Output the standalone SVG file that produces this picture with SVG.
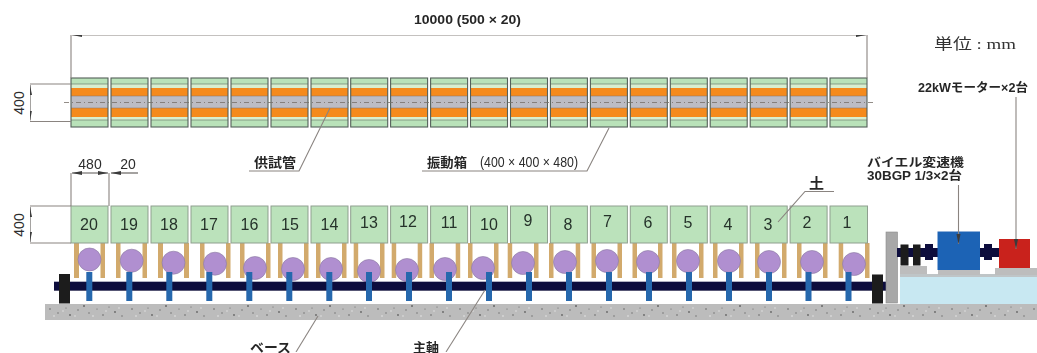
<svg xmlns="http://www.w3.org/2000/svg" width="1037" height="353" viewBox="0 0 1037 353">
<style>
.ln{fill:none;stroke:#8a8480;stroke-width:1.1}
.dk{fill:none;stroke:#5a5654;stroke-width:1.1}
.t{font-family:"Liberation Sans Narrow","Liberation Sans","Noto Sans CJK JP",sans-serif;fill:#262626;font-weight:700;font-size:12px}
.d{font-family:"Liberation Sans Narrow","Liberation Sans",sans-serif;fill:#2c2c2c;font-size:14px;text-anchor:middle}
.n{font-family:"Liberation Sans Narrow","Liberation Sans",sans-serif;fill:#26332b;font-size:16px;text-anchor:middle}
.box{fill:#bbe2bb;stroke:#8f9f8f;stroke-width:1}
.post{fill:#d2aa6c}
.c{fill:#b08fd0;stroke:#8a7aa0;stroke-width:.6}
.rod{fill:#2767ad}
.sh{fill:#10103e}
.bk{fill:#1c1c1c}
.gr{fill:#bdbdbd}
</style>
<defs>
<filter id="soft" x="0" y="0" width="100%" height="100%"><feGaussianBlur stdDeviation="0.4"/></filter>
<marker id="ah" markerWidth="10" markerHeight="6" refX="10" refY="3" orient="auto-start-reverse" markerUnits="userSpaceOnUse"><path d="M10 3L0 1V5Z" fill="#3a3a3a"/></marker>
<pattern id="sp" width="82" height="16" patternUnits="userSpaceOnUse" x="45" y="304">
<rect width="82" height="16" fill="#bcbcbc"/>
<g fill="#666"><circle cx="5" cy="5" r=".8"/><circle cx="13" cy="9" r=".7"/><circle cx="21" cy="4" r=".6"/><circle cx="25" cy="11" r=".9"/><circle cx="33" cy="6" r=".7"/><circle cx="39" cy="2" r="1"/><circle cx="44" cy="9" r=".7"/><circle cx="52" cy="5" r=".6"/><circle cx="58" cy="11" r=".8"/><circle cx="64" cy="3" r=".6"/><circle cx="70" cy="8" r=".9"/><circle cx="77" cy="12" r=".7"/></g>
<g fill="#e8e8e8"><circle cx="9" cy="12" r=".8"/><circle cx="18" cy="7" r=".7"/><circle cx="30" cy="12" r=".7"/><circle cx="48" cy="12" r=".8"/><circle cx="61" cy="7" r=".7"/><circle cx="74" cy="4" r=".7"/></g>
</pattern>
<g id="tube">
<rect x="0" y="0" width="37" height="49" fill="#b9e2b9"/>
<rect x="0" y="6" width="37" height="4" fill="#d8eecf"/>
<rect x="0" y="10" width="37" height="8" fill="#f58a1c"/>
<rect x="0" y="18" width="37" height="12" fill="#bcbcc4"/>
<rect x="0" y="30" width="37" height="9" fill="#f58a1c"/>
<rect x="0" y="39" width="37" height="3" fill="#d8eecf"/>
<path d="M0 6H37M0 42H37" stroke="#6f7f6f" stroke-width=".7" fill="none"/>
<path d="M0 18H37M0 30H37" stroke="#8a7060" stroke-width=".5" fill="none"/>
<rect x="0" y="0" width="37" height="49" fill="none" stroke="#55605a" stroke-width="1.1"/>
</g>
</defs>
<rect width="1037" height="353" fill="#fff"/>
<g filter="url(#soft)">

<g id="base"><rect x="45" y="304" width="992" height="16" fill="url(#sp)"/></g>

<g id="tubes">
<g id="tube-20"><use href="#tube" x="71" y="78"/></g>
<g id="tube-19"><use href="#tube" x="111" y="78"/></g>
<g id="tube-18"><use href="#tube" x="151" y="78"/></g>
<g id="tube-17"><use href="#tube" x="191" y="78"/></g>
<g id="tube-16"><use href="#tube" x="231" y="78"/></g>
<g id="tube-15"><use href="#tube" x="271" y="78"/></g>
<g id="tube-14"><use href="#tube" x="311" y="78"/></g>
<g id="tube-13"><use href="#tube" x="350.7" y="78"/></g>
<g id="tube-12"><use href="#tube" x="390.6" y="78"/></g>
<g id="tube-11"><use href="#tube" x="430.6" y="78"/></g>
<g id="tube-10"><use href="#tube" x="470.5" y="78"/></g>
<g id="tube-9"><use href="#tube" x="510.5" y="78"/></g>
<g id="tube-8"><use href="#tube" x="550.4" y="78"/></g>
<g id="tube-7"><use href="#tube" x="590.4" y="78"/></g>
<g id="tube-6"><use href="#tube" x="630.3" y="78"/></g>
<g id="tube-5"><use href="#tube" x="670.3" y="78"/></g>
<g id="tube-4"><use href="#tube" x="710.2" y="78"/></g>
<g id="tube-3"><use href="#tube" x="750.2" y="78"/></g>
<g id="tube-2"><use href="#tube" x="790.1" y="78"/></g>
<g id="tube-1"><use href="#tube" x="830" y="78"/></g>
<path d="M64 102.500H873" stroke="#77706a" stroke-width=".8" stroke-dasharray="5 3 1 3" fill="none"/>
</g>

<g id="posts">
<path class="post" d="M74 243h5v35h-5zM100.500 243h4.500v35h-4.500zM116 243h4.500v35h-4.500zM142.500 243h4.500v35h-4.500zM158 243h5v35h-5zM184 243h5v35h-5zM200 243h4.500v35h-4.500zM226 243h4.500v35h-4.500zM240 243h4.500v35h-4.500zM266 243h4.500v35h-4.500zM278 243h4.500v35h-4.500zM304 243h4.500v35h-4.500zM316 243h4.500v35h-4.500zM342 243h4.500v35h-4.500zM353.700 243h4.500v35h-4.500zM380 243h4.500v35h-4.500zM391.700 243h4.500v35h-4.500zM417.700 243h4.500v35h-4.500zM429.500 243h4.500v35h-4.500zM455.700 243h4.500v35h-4.500zM468 243h4.500v35h-4.500zM494 243h4.500v35h-4.500zM507.700 243h4.500v35h-4.500zM534 243h4.500v35h-4.500zM549 243h4.500v35h-4.500zM575.700 243h4.500v35h-4.500zM591.500 243h4.500v35h-4.500zM617.500 243h4.500v35h-4.500zM632.500 243h4.500v35h-4.500zM658 243h4.500v35h-4.500zM672 243h4.500v35h-4.500zM699 243h4.500v35h-4.500zM713 243h4.500v35h-4.500zM739 243h4.500v35h-4.500zM755 243h4.500v35h-4.500zM782 243h4.500v35h-4.500zM797 243h4.500v35h-4.500zM823 243h4.500v35h-4.500zM838.700 243h4.500v35h-4.500zM865 243h4.500v35h-4.500z"/>
</g>

<g id="rotors">
<circle class="c" cx="89.5" cy="259.5" r="11.5"/><circle class="c" cx="131.7" cy="260.7" r="11.5"/><circle class="c" cx="173.5" cy="262.7" r="11.5"/><circle class="c" cx="215" cy="263.7" r="11.5"/><circle class="c" cx="255" cy="268" r="11.5"/><circle class="c" cx="293" cy="269" r="11.5"/><circle class="c" cx="331" cy="269" r="11.5"/><circle class="c" cx="369" cy="271" r="11.5"/><circle class="c" cx="407" cy="270" r="11.5"/><circle class="c" cx="445" cy="269" r="11.5"/><circle class="c" cx="483" cy="268" r="11.5"/><circle class="c" cx="523" cy="263" r="11.5"/><circle class="c" cx="565" cy="262" r="11.5"/><circle class="c" cx="607" cy="261" r="11.5"/><circle class="c" cx="648" cy="262" r="11.5"/><circle class="c" cx="688" cy="261" r="11.5"/><circle class="c" cx="729" cy="261" r="11.5"/><circle class="c" cx="769" cy="262" r="11.5"/><circle class="c" cx="812" cy="262" r="11.5"/><circle class="c" cx="854" cy="264" r="11.5"/>
</g>

<g id="main-shaft">
<rect class="sh" x="54" y="281.7" width="843" height="9"/>
<rect class="bk" x="59" y="274" width="11" height="29.5"/>
<rect class="bk" x="872" y="274.5" width="11" height="29"/>
</g>

<g id="rods">
<path class="rod" d="M86.300 272h6v29h-6zM126.300 272h6v29h-6zM166.300 272h6v29h-6zM206.300 272h6v29h-6zM246.300 272h6v29h-6zM286.300 272h6v29h-6zM326.300 272h6v29h-6zM366 272h6v29h-6zM406 272h6v29h-6zM446 272h6v29h-6zM486 272h6v29h-6zM526 272h6v29h-6zM566 272h6v29h-6zM606 272h6v29h-6zM646 272h6v29h-6zM686 272h6v29h-6zM726 272h6v29h-6zM766 272h6v29h-6zM805.500 272h6v29h-6zM845.500 272h6v29h-6z"/>
</g>

<g id="soil-boxes">
<g id="box-20"><rect class="box" x="71" y="206" width="37" height="37"/><text class="n" x="89" y="229.500">20</text></g>
<g id="box-19"><rect class="box" x="111" y="206" width="37" height="37"/><text class="n" x="129" y="229.500">19</text></g>
<g id="box-18"><rect class="box" x="151" y="206" width="37" height="37"/><text class="n" x="169" y="229.500">18</text></g>
<g id="box-17"><rect class="box" x="191" y="206" width="37" height="37"/><text class="n" x="209" y="229.500">17</text></g>
<g id="box-16"><rect class="box" x="231" y="206" width="37" height="37"/><text class="n" x="249.500" y="229.500">16</text></g>
<g id="box-15"><rect class="box" x="271" y="206" width="37" height="37"/><text class="n" x="290" y="229.500">15</text></g>
<g id="box-14"><rect class="box" x="311" y="206" width="37" height="37"/><text class="n" x="329.500" y="229.500">14</text></g>
<g id="box-13"><rect class="box" x="350.7" y="206" width="37" height="37"/><text class="n" x="369" y="228">13</text></g>
<g id="box-12"><rect class="box" x="390.6" y="206" width="37" height="37"/><text class="n" x="408" y="227">12</text></g>
<g id="box-11"><rect class="box" x="430.6" y="206" width="37" height="37"/><text class="n" x="449" y="228">11</text></g>
<g id="box-10"><rect class="box" x="470.5" y="206" width="37" height="37"/><text class="n" x="489" y="229.500">10</text></g>
<g id="box-9"><rect class="box" x="510.5" y="206" width="37" height="37"/><text class="n" x="528" y="226">9</text></g>
<g id="box-8"><rect class="box" x="550.4" y="206" width="37" height="37"/><text class="n" x="568" y="229.500">8</text></g>
<g id="box-7"><rect class="box" x="590.4" y="206" width="37" height="37"/><text class="n" x="607.5" y="227">7</text></g>
<g id="box-6"><rect class="box" x="630.3" y="206" width="37" height="37"/><text class="n" x="648" y="228">6</text></g>
<g id="box-5"><rect class="box" x="670.3" y="206" width="37" height="37"/><text class="n" x="688" y="228">5</text></g>
<g id="box-4"><rect class="box" x="710.2" y="206" width="37" height="37"/><text class="n" x="728" y="229.500">4</text></g>
<g id="box-3"><rect class="box" x="750.2" y="206" width="37" height="37"/><text class="n" x="768" y="229.500">3</text></g>
<g id="box-2"><rect class="box" x="790.1" y="206" width="37" height="37"/><text class="n" x="807" y="228">2</text></g>
<g id="box-1"><rect class="box" x="830" y="206" width="37.500" height="37"/><text class="n" x="847" y="228">1</text></g>
</g>

<g id="drive">
<rect x="886" y="232" width="11.500" height="71" fill="#a8a8a8" stroke="#8a8a8a" stroke-width=".6"/>
<rect x="900" y="275" width="137" height="29" fill="#c8e8f2"/>
<rect x="900" y="274" width="137" height="3" fill="#bfc5c7"/>
<rect x="900" y="266" width="27" height="8" class="gr"/>
<rect x="938" y="270" width="42" height="5" class="gr"/>
<rect x="995" y="268" width="42" height="7" class="gr"/>
<rect class="sh" x="897" y="248" width="103" height="9"/>
<rect class="bk" x="900.500" y="244.500" width="8" height="21"/>
<rect class="bk" x="913" y="244.500" width="7.500" height="21"/>
<rect class="sh" x="925" y="244" width="8" height="16"/>
<rect class="sh" x="984" y="244" width="8" height="16"/>
<g id="reducer"><rect x="937.500" y="231.500" width="42.500" height="38.500" fill="#1f63b5"/></g>
<g id="motor"><rect x="999" y="239" width="31" height="29" fill="#c9201f"/></g>
</g>

<g id="connectors">
<path class="ln" d="M71 78V35M867 78V35"/>
<path class="ln" d="M72 35H866" marker-start="url(#ah)" marker-end="url(#ah)"/>
<path class="ln" d="M71 84H30M71 121.500H30M71 206H30M71 243H30"/>
<path class="dk" d="M30 85V120.500" marker-start="url(#ah)" marker-end="url(#ah)"/>
<path class="dk" d="M30 207V242" marker-start="url(#ah)" marker-end="url(#ah)"/>
<path class="ln" d="M71 206V173M109 206V173"/>
<path class="dk" d="M72 173H108" marker-start="url(#ah)" marker-end="url(#ah)"/>
<path class="dk" d="M111 173H138" marker-start="url(#ah)"/>
<path class="ln" d="M249 171H299L330 108"/>
<path class="ln" d="M422 171H587L609 128"/>
<path class="ln" d="M296 352L318 316"/>
<path class="ln" d="M446 352L485 290"/>
<path class="ln" d="M834 191.500H805L778 222"/>
<path class="ln" d="M958.500 185V244" marker-end="url(#ah)"/>
<path class="ln" d="M1016 97V249" marker-end="url(#ah)"/>
</g>
</g>

<g id="labels">
<text class="t" x="414" y="24" textLength="107" lengthAdjust="spacingAndGlyphs" style="font-size:13px">10000 (500 × 20)</text>
<text x="934" y="49" textLength="82" lengthAdjust="spacingAndGlyphs" style="font-family:'Liberation Serif','Noto Sans CJK JP',serif;font-size:15px;fill:#333">単位 : mm</text>
<text class="t" x="918" y="92" textLength="110" lengthAdjust="spacingAndGlyphs">22kWモーター×2台</text>
<text class="t" x="867" y="167" textLength="97" lengthAdjust="spacingAndGlyphs">バイエル変速機</text>
<text class="t" x="867" y="180" textLength="95" lengthAdjust="spacingAndGlyphs">30BGP 1/3×2台</text>
<text class="t" x="254" y="167" textLength="42" lengthAdjust="spacingAndGlyphs" style="font-size:13px">供試管</text>
<text class="t" x="427" y="167" textLength="40" lengthAdjust="spacingAndGlyphs" style="font-size:13px">振動箱</text>
<text class="d" x="529" y="167" textLength="98" lengthAdjust="spacingAndGlyphs">(400 × 400 × 480)</text>
<text class="t" x="809" y="188" textLength="15" lengthAdjust="spacingAndGlyphs" style="font-size:14px">土</text>
<text class="t" x="250" y="352" textLength="41" lengthAdjust="spacingAndGlyphs" style="font-size:13px">ベース</text>
<text class="t" x="413" y="352" textLength="26" lengthAdjust="spacingAndGlyphs" style="font-size:13px">主軸</text>
<text class="d" x="90" y="169">480</text>
<text class="d" x="128" y="169">20</text>
<text class="d" transform="translate(24 103) rotate(-90)">400</text>
<text class="d" transform="translate(24 225) rotate(-90)">400</text>
</g>
</svg>
